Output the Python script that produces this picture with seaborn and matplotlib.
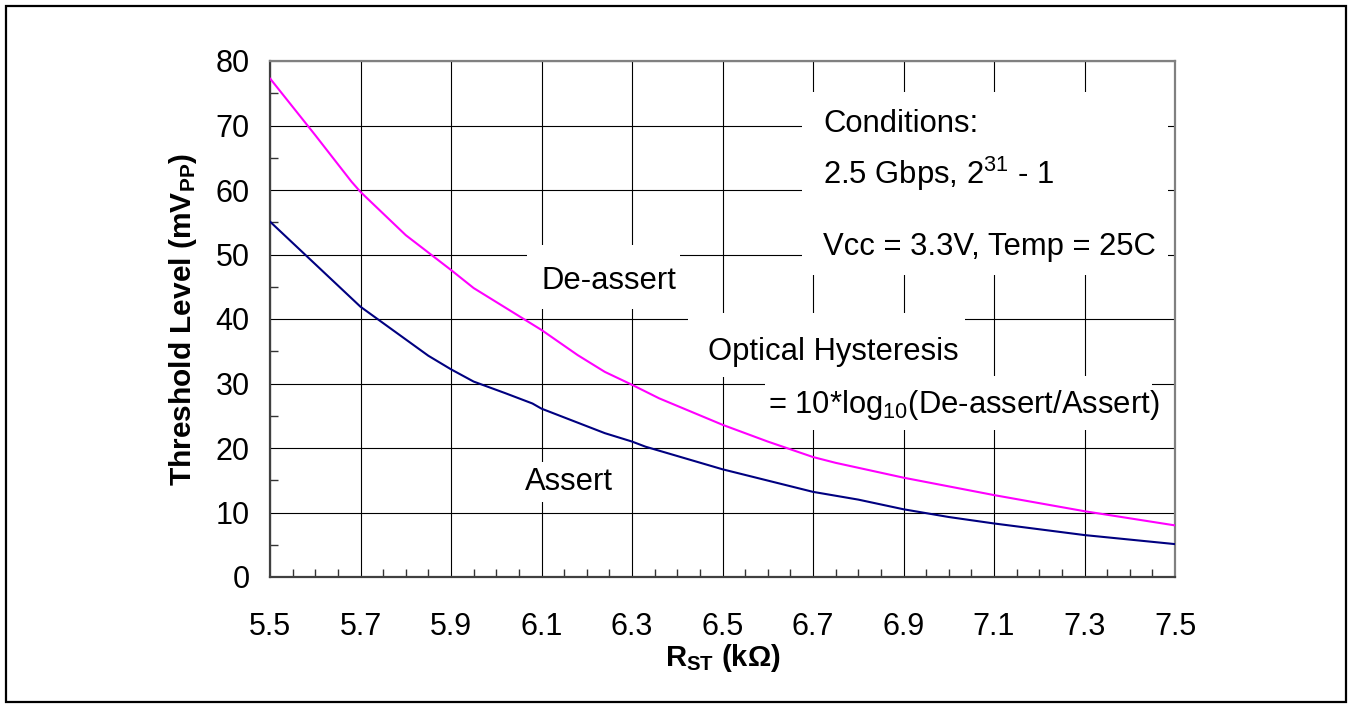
import numpy as np
import pandas as pd
import matplotlib
matplotlib.use('Agg')
import matplotlib.pyplot as plt
from matplotlib.patches import Rectangle
from matplotlib.ticker import MultipleLocator
import seaborn as sns

# De-assert curve
deassert_r = [5.50, 5.60, 5.68, 5.70, 5.80, 5.90, 5.95, 6.10, 6.18, 6.24, 6.30,
              6.36, 6.50, 6.60, 6.70, 6.75, 6.90, 7.10, 7.30, 7.50]
deassert_mv = [77.3, 68.5, 61.3, 59.7, 53.0, 47.6, 44.8, 38.3, 34.4, 31.8, 29.8,
               27.7, 23.6, 21.0, 18.6, 17.7, 15.4, 12.7, 10.2, 8.0]

# Assert curve
assert_r = [5.50, 5.70, 5.85, 5.90, 5.95, 6.02, 6.08, 6.10, 6.24, 6.30, 6.33,
            6.50, 6.62, 6.70, 6.80, 6.90, 7.00, 7.10, 7.30, 7.50]
assert_mv = [55.1, 41.9, 34.3, 32.2, 30.3, 28.5, 26.9, 26.1, 22.3, 21.0, 20.2,
             16.7, 14.6, 13.2, 12.0, 10.5, 9.3, 8.3, 6.5, 5.1]

x_ticks = [5.5, 5.7, 5.9, 6.1, 6.3, 6.5, 6.7, 6.9, 7.1, 7.3, 7.5]
y_ticks = [0, 10, 20, 30, 40, 50, 60, 70, 80]

sns.set_theme(style='white')
plt.rcParams['font.family'] = ['Liberation Sans', 'DejaVu Sans']
plt.rcParams['mathtext.fontset'] = 'custom'
plt.rcParams['mathtext.rm'] = 'Liberation Sans'
plt.rcParams['mathtext.it'] = 'Liberation Sans:italic'
plt.rcParams['mathtext.bf'] = 'Liberation Sans:bold'
plt.rcParams['text.color'] = 'black'
plt.rcParams['axes.labelcolor'] = 'black'

fig = plt.figure(figsize=(13.51, 7.04), dpi=100)
ax = fig.add_axes([270/1351, 1-577/704, 905/1351, 516/704])

df_de = pd.DataFrame({'r': deassert_r, 'mv': deassert_mv})
df_as = pd.DataFrame({'r': assert_r, 'mv': assert_mv})
sns.lineplot(data=df_de, x='r', y='mv', color='#FF00FF', linewidth=1.5, ax=ax, zorder=4)
sns.lineplot(data=df_as, x='r', y='mv', color='#000080', linewidth=1.5, ax=ax, zorder=4)

ax.set_xlim(5.5, 7.5)
ax.set_ylim(0, 80)
ax.set_xticks(x_ticks)
ax.set_xticklabels([f'{t:.1f}' for t in x_ticks])
ax.set_yticks(y_ticks)
ax.xaxis.set_minor_locator(MultipleLocator(0.05))
ax.yaxis.set_minor_locator(MultipleLocator(5))
ax.set_axisbelow(True)
ax.grid(True, which='major', color='black', linewidth=0.8)

ax.tick_params(which='major', direction='inout', length=13, width=1.0, color='#333333',
               labelsize=22, labelcolor='black')
ax.tick_params(axis='x', which='major', pad=19)
ax.tick_params(axis='y', which='major', pad=8)
ax.tick_params(which='minor', direction='in', length=6, width=1.0, color='#333333',
               bottom=True, left=True)

for side in ['left', 'bottom']:
    ax.spines[side].set_color('#404040')
    ax.spines[side].set_linewidth(1.6)
for side in ['top', 'right']:
    ax.spines[side].set_color('#808080')
    ax.spines[side].set_linewidth(1.6)

ax.set_xlabel('R$_{\\mathbf{ST}}$ (kΩ)', fontsize=21, fontweight='bold', labelpad=0)
ax.set_ylabel('Threshold Level (mV$_{\\mathbf{PP}}$)', fontsize=21.5, fontweight='bold', labelpad=12)

# white text boxes (Excel style) that hide the grid behind the notes
boxes = [
    (6.676, 46.82, 0.809, 28.37),
    (6.068, 41.55, 0.338, 9.92),
    (6.424, 31.01, 0.612, 9.92),
    (6.594, 22.79, 0.855, 8.37),
    (6.041, 11.63, 0.232, 6.20),
]
for bx, by, bw, bh in boxes:
    ax.add_patch(Rectangle((bx, by), bw, bh, facecolor='white', edgecolor='none', zorder=1))

fs = 22.3
ax.text(6.722, 69.0, 'Conditions:', fontsize=fs, zorder=5)
ax.text(6.722, 60.9, '2.5 Gbps, 2$^{31}$ - 1', fontsize=fs, zorder=5)
ax.text(6.722, 49.9, 'Vcc = 3.3V, Temp = 25C', fontsize=fs, zorder=5)
ax.text(6.101, 44.65, 'De-assert', fontsize=fs, zorder=5)
ax.text(6.468, 33.64, 'Optical Hysteresis', fontsize=fs, zorder=5)
ax.text(6.600, 25.43, '= 10*log$_{10}$(De-assert/Assert)', fontsize=fs, zorder=5)
ax.text(6.0635, 13.49, 'Assert', fontsize=fs, zorder=5)

# outer frame
fig.patches.append(Rectangle((6/1351, 2/704), 1340/1351, 696/704, transform=fig.transFigure,
                             fill=False, edgecolor='black', linewidth=1.6))

fig.savefig('out.png', dpi=100)
